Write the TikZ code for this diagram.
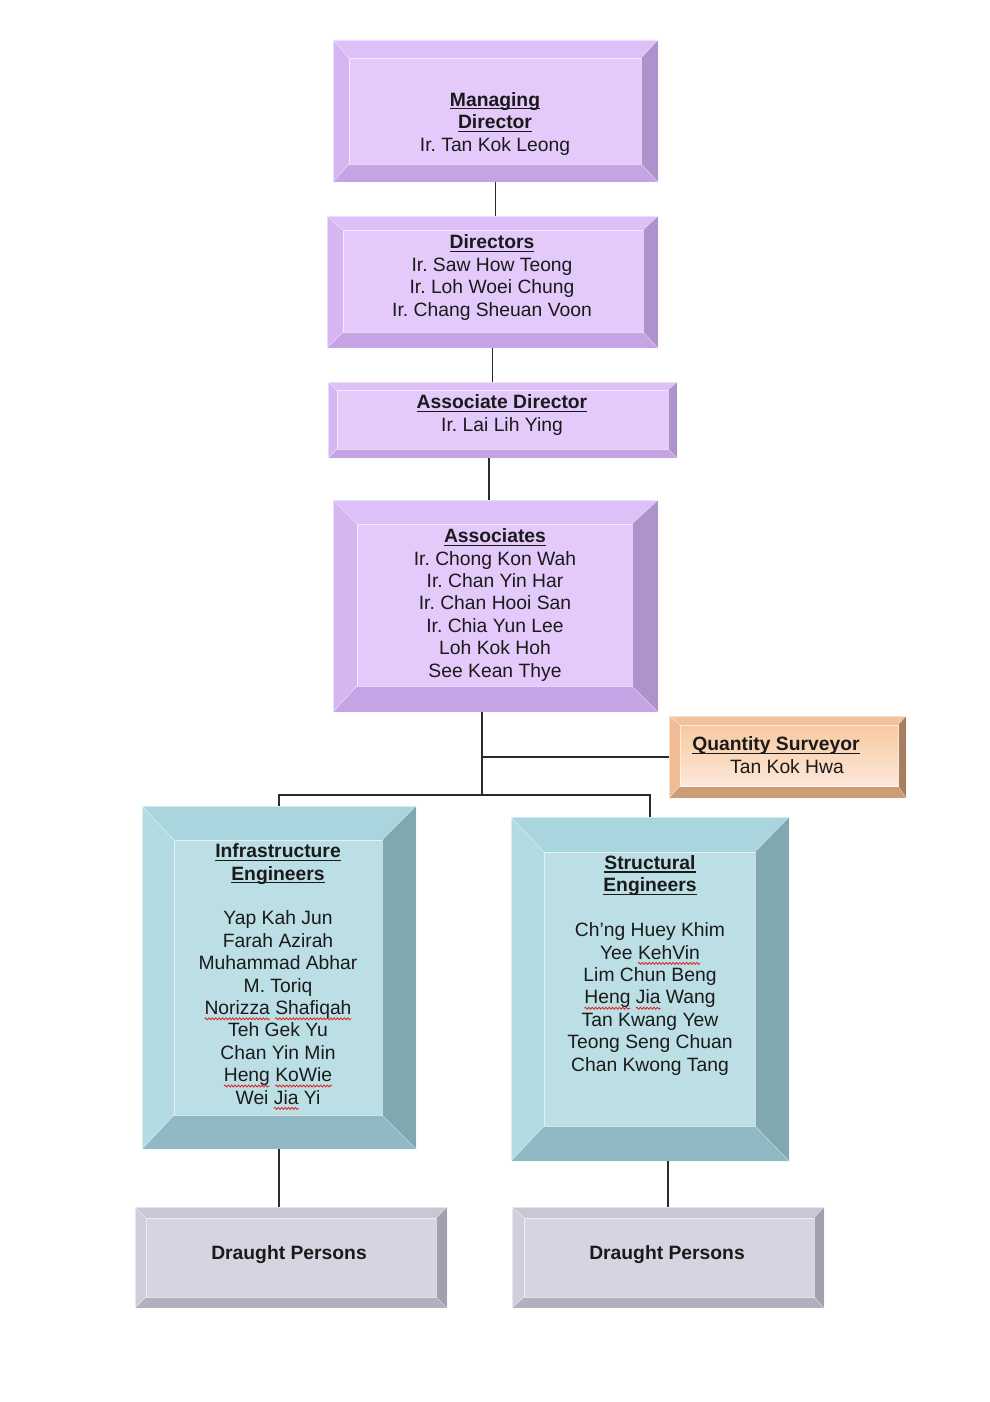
\documentclass[tikz,border=0pt]{standalone}
\usepackage{fontspec}
\setmainfont{Liberation Sans}
\usetikzlibrary{fit,decorations.pathmorphing}
\frenchspacing
% purple
\definecolor{pF}{HTML}{E3CAFB}\definecolor{pT}{HTML}{DCC0F7}\definecolor{pL}{HTML}{D5B6F1}
\definecolor{pR}{HTML}{AD92CB}\definecolor{pB}{HTML}{C5A4E6}
% teal
\definecolor{tF}{HTML}{BCDFE5}\definecolor{tT}{HTML}{A9D6DE}\definecolor{tL}{HTML}{B3DBE2}
\definecolor{tR}{HTML}{80A8B0}\definecolor{tB}{HTML}{8EB9C5}
% grey
\definecolor{gF}{HTML}{D5D5E1}\definecolor{gT}{HTML}{C8C8D5}\definecolor{gL}{HTML}{CFCFDB}
\definecolor{gR}{HTML}{A0A0AF}\definecolor{gB}{HTML}{B0B0BF}
% orange
\definecolor{oF}{HTML}{FAD8BC}\definecolor{oT}{HTML}{F2C29C}\definecolor{oL}{HTML}{EFBC95}
\definecolor{oR}{HTML}{A87E5E}\definecolor{oB}{HTML}{CC9C77}
\definecolor{oFa}{HTML}{F8C9A0}\definecolor{oFb}{HTML}{FCE8DA}
\definecolor{tx}{HTML}{1A1A1A}\definecolor{lc}{HTML}{2B2B2B}\definecolor{splc}{HTML}{E02020}
\newlength\ulw
\newcommand\ulx[1]{\settowidth\ulw{#1}\rlap{\rule[-3.2pt]{\ulw}{1.3pt}}#1}
\newcommand\spl[1]{\settowidth\ulw{#1}\rlap{\tikz[overlay,baseline=0pt]\draw[splc,line width=.8pt,decorate,decoration={snake,amplitude=1pt,segment length=3.4pt}] (0pt,-4.4pt) -- (\ulw,-4.4pt);}#1}
% #1 name, #2 outer NW, #3 outer SE, #4 inner NW, #5 inner SE, #6 colour scheme
\newcommand\bevelbox[6]{%
  \coordinate (#1oa) at #2; \coordinate (#1ob) at #3;
  \coordinate (#1ia) at #4; \coordinate (#1ib) at #5;
  \node[fit=(#1oa)(#1ob),inner sep=0pt] (#1) {};
  \fill[#6F] (#1ia) rectangle (#1ib);
  \fill[#6T] (#1oa) -- (#1oa -| #1ob) -- (#1ia -| #1ib) -- (#1ia) -- cycle;
  \fill[#6B] (#1oa |- #1ob) -- (#1ob) -- (#1ib) -- (#1ia |- #1ib) -- cycle;
  \fill[#6L] (#1oa) -- (#1ia) -- (#1ia |- #1ib) -- (#1oa |- #1ob) -- cycle;
  \fill[#6R] (#1oa -| #1ob) -- (#1ob) -- (#1ib) -- (#1ia -| #1ib) -- cycle;
  \draw[white,opacity=.6,line width=.8pt] (#1ia) rectangle (#1ib);
  \draw[white,opacity=.45,line width=.6pt] (#1oa) -- (#1ia) (#1oa -| #1ob) -- (#1ia -| #1ib)
     (#1ob) -- (#1ib) (#1oa |- #1ob) -- (#1ia |- #1ib);
  \draw[white,opacity=.5,line width=.6pt] (#1oa) rectangle (#1ob);
}
\begin{document}
\begin{tikzpicture}[x=1pt,y=-1pt,
  txt/.style={font=\fontsize{19.3}{22.4}\selectfont,text=tx,align=center,inner sep=0pt,anchor=base},
  conn/.style={draw=lc,line width=1.5pt}]
\fill[white] (0,0) rectangle (989,1402);
\useasboundingbox (0,0) rectangle (989,1402);
% boxes
\bevelbox{md}{(333,40)}{(658,182)}{(349,58)}{(641,164)}{p}
\bevelbox{dir}{(327,216)}{(658,348)}{(343,230)}{(643,332)}{p}
\bevelbox{ad}{(328,382)}{(677,458)}{(337,390)}{(668,449)}{p}
\bevelbox{asc}{(333,500)}{(658,712)}{(357,524)}{(632,686)}{p}
\bevelbox{qs}{(669,716)}{(906,798)}{(680,725)}{(898,786)}{o}
\shade[top color=oFa,bottom color=oFb] (qsia) rectangle (qsib);
\draw[white,opacity=.6,line width=.8pt] (qsia) rectangle (qsib);
\bevelbox{inf}{(142,806)}{(416,1149)}{(174,840)}{(382,1115)}{t}
\bevelbox{str}{(511,817)}{(789,1161)}{(544,852)}{(755,1126)}{t}
\bevelbox{dl}{(135,1207)}{(447,1308)}{(146,1218)}{(436,1297)}{g}
\bevelbox{dr}{(512,1207)}{(824,1308)}{(524,1218)}{(814,1297)}{g}
% connectors
\draw[conn] (md.south) -- (md.south |- dir.north);
\draw[conn] (dir.south) -- (dir.south |- ad.north);
\coordinate (adj) at ([xshift=-6.5pt]asc.north);
\draw[conn] (adj) -- (adj |- ad.south);
\coordinate (busT) at ([xshift=-13.5pt]asc.south);
\coordinate (bus) at (482,795);
\draw[conn] (busT) -- (bus);
\draw[conn] (qs.west) -- (qs.west -| bus);
\draw[conn] (inf.north) -- (inf.north |- bus) -- (str.north |- bus) -- (str.north);
\draw[conn] (inf.south) -- (inf.south |- dl.north);
\draw[conn] (dr.north) -- (dr.north |- str.south);
% texts (anchor base = baseline of the last line)
\node[txt] (mdt) at (495,151) {\textbf{\ulx{Managing}}\\\textbf{\ulx{Director}}\\Ir. Tan Kok Leong};
\node[txt] (dirt) at (492,316) {\textbf{\ulx{Directors}}\\Ir. Saw How Teong\\Ir. Loh Woei Chung\\Ir. Chang Sheuan Voon};
\node[txt] (adt) at (502,431) {\textbf{\ulx{Associate Director}}\\Ir. Lai Lih Ying};
\node[txt] (asct) at (495,677) {\textbf{\ulx{Associates}}\\Ir. Chong Kon Wah\\Ir. Chan Yin Har\\Ir. Chan Hooi San\\Ir. Chia Yun Lee\\Loh Kok Hoh\\See Kean Thye};
\node[txt] (qst) at (776,773) {\textbf{\ulx{Quantity Surveyor}}\\\hspace*{22pt}Tan Kok Hwa};
\node[txt] (inft) at (278,1104) {\textbf{\ulx{Infrastructure}}\\\textbf{\ulx{Engineers}}\\[22.4pt]Yap Kah Jun\\Farah Azirah\\Muhammad Abhar\\M. Toriq\\\spl{Norizza} \spl{Shafiqah}\\Teh Gek Yu\\Chan Yin Min\\\spl{Heng} \spl{KoWie}\\Wei \spl{Jia} Yi};
\node[txt] (strt) at (650,1071) {\textbf{\ulx{Structural}}\\\textbf{\ulx{Engineers}}\\[22.4pt]Ch’ng Huey Khim\\Yee \spl{KehVin}\\Lim Chun Beng\\\spl{Heng} \spl{Jia} Wang\\Tan Kwang Yew\\Teong Seng Chuan\\Chan Kwong Tang};
\node[txt] (dlt) at (289,1259) {\textbf{Draught Persons}};
\node[txt] (drt) at (667,1259) {\textbf{Draught Persons}};
\end{tikzpicture}
\end{document}
